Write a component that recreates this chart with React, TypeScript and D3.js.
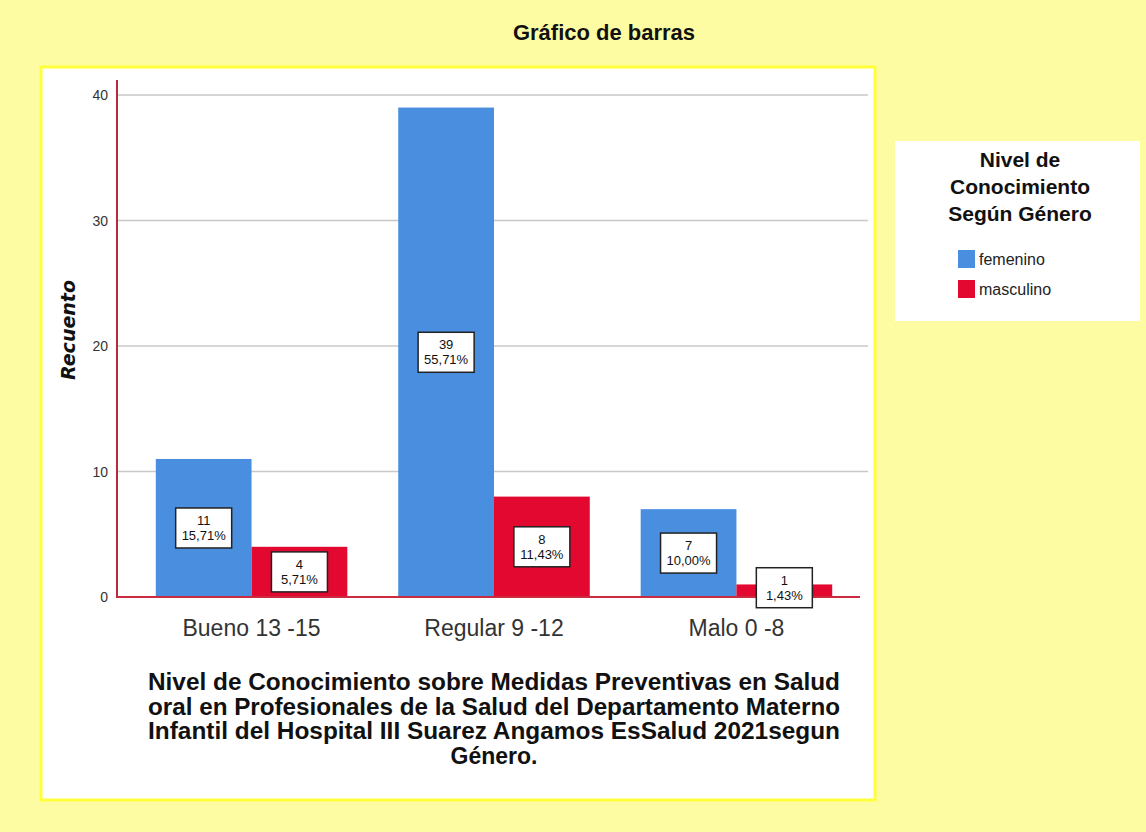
import React from "react";
import * as d3 from "d3";

const categories = ["Bueno 13 -15", "Regular 9 -12", "Malo 0 -8"];
const series = ["femenino", "masculino"];
const femenino = [11, 39, 7];
const masculino = [4, 8, 1];
const femeninoPct = ["15,71%", "55,71%", "10,00%"];
const masculinoPct = ["5,71%", "11,43%", "1,43%"];
const yTicks = [0, 10, 20, 30, 40];
const titleLines = [
  "Nivel de Conocimiento sobre Medidas Preventivas en Salud",
  "oral en Profesionales de la Salud del Departamento Materno",
  "Infantil del Hospital III Suarez Angamos EsSalud 2021segun",
  "Género.",
];
const legendTitle = ["Nivel de", "Conocimiento", "Según Género"];

const colors = ["#4a8ee0", "#e2082f"];

export default function App() {
  const W = 1146;
  const H = 832;

  const x = d3.scaleBand().domain(categories).range([117, 871]).paddingInner(0.21).paddingOuter(0.16);
  const xs = d3.scaleBand().domain(series).range([0, x.bandwidth()]);
  const y = d3.scaleLinear().domain([0, 40]).range([597, 95]);

  const rows = categories.flatMap((c, i) => [
    { cat: c, s: series[0], v: femenino[i], pct: femeninoPct[i] },
    { cat: c, s: series[1], v: masculino[i], pct: masculinoPct[i] },
  ]);

  return (
    <div style={{ position: "absolute", left: 0, top: 0 }}>
      <svg width={W} height={H} style={{ display: "block" }}>
        <rect x={0} y={0} width={W} height={H} fill="#fdfca2" />
        <text x={604} y={40} textAnchor="middle" fontFamily="Liberation Sans, Arial" fontWeight="bold" fontSize={22} fill="#111">
          Gráfico de barras
        </text>

        <rect x={41} y={67} width={834} height={733} fill="#ffffff" stroke="#ffff3a" strokeWidth={3} />

        {/* gridlines */}
        {yTicks.filter((t) => t > 0).map((t) => (
          <line key={t} x1={117} x2={868} y1={y(t)} y2={y(t)} stroke="#c8c8c8" strokeWidth={1.5} />
        ))}

        {/* bars */}
        {rows.map((r, i) => (
          <rect
            key={i}
            x={(x(r.cat) as number) + (xs(r.s) as number)}
            y={y(r.v)}
            width={xs.bandwidth()}
            height={y(0) - y(r.v)}
            fill={colors[series.indexOf(r.s)]}
          />
        ))}

        {/* axes */}
        <line x1={117} x2={117} y1={80} y2={598} stroke="#b8283f" strokeWidth={2} />
        <line x1={117} x2={860} y1={597} y2={597} stroke="#cc2a40" strokeWidth={2} />

        {yTicks.map((t) => (
          <text key={t} x={108} y={y(t) + 5} textAnchor="end" fontFamily="Liberation Sans, Arial" fontSize={14} fill="#333">
            {t}
          </text>
        ))}

        {categories.map((c) => (
          <text
            key={c}
            x={(x(c) as number) + x.bandwidth() / 2}
            y={636}
            textAnchor="middle"
            fontFamily="Liberation Sans, Arial"
            fontSize={23}
            fill="#333"
          >
            {c}
          </text>
        ))}

        {/* value labels */}
        {rows.map((r, i) => {
          const cx = (x(r.cat) as number) + (xs(r.s) as number) + xs.bandwidth() / 2;
          const cy = (y(r.v) + y(0)) / 2 - (r.v < 2 ? 3 : 0);
          const bw = 56;
          const bh = 40;
          return (
            <g key={"l" + i}>
              <rect x={cx - bw / 2} y={cy - bh / 2} width={bw} height={bh} fill="#ffffff" stroke="#222" strokeWidth={1.5} />
              <text x={cx} y={cy - 3} textAnchor="middle" fontFamily="Liberation Sans, Arial" fontSize={13} fill="#111">
                {r.v}
              </text>
              <text x={cx} y={cy + 12} textAnchor="middle" fontFamily="Liberation Sans, Arial" fontSize={13} fill="#111">
                {r.pct}
              </text>
            </g>
          );
        })}

        <text
          transform="translate(75,330) rotate(-90)"
          textAnchor="middle"
          fontFamily="DejaVu Sans"
          fontStyle="italic"
          fontWeight="bold"
          fontSize={19}
          fill="#111"
        >
          Recuento
        </text>

        {titleLines.map((l, i) => (
          <text
            key={i}
            x={494}
            y={690 + i * 24.5}
            textAnchor="middle"
            fontFamily="Liberation Sans, Arial"
            fontWeight="bold"
            fontSize={23}
            fill="#111"
            textLength={i < 3 ? 692 : undefined}
            lengthAdjust="spacingAndGlyphs"
          >
            {l}
          </text>
        ))}

        {/* legend */}
        <rect x={895} y={141} width={245} height={180} fill="#ffffff" />
        {legendTitle.map((l, i) => (
          <text key={i} x={1020} y={167 + i * 27} textAnchor="middle" fontFamily="Liberation Sans, Arial" fontWeight="bold" fontSize={21} fill="#111">
            {l}
          </text>
        ))}
        {series.map((s, i) => (
          <g key={s}>
            <rect x={958} y={250 + i * 30} width={17} height={18} fill={colors[i]} />
            <text x={979} y={265 + i * 30} fontFamily="Liberation Sans, Arial" fontSize={16} fill="#222">
              {s}
            </text>
          </g>
        ))}
      </svg>
    </div>
  );
}
